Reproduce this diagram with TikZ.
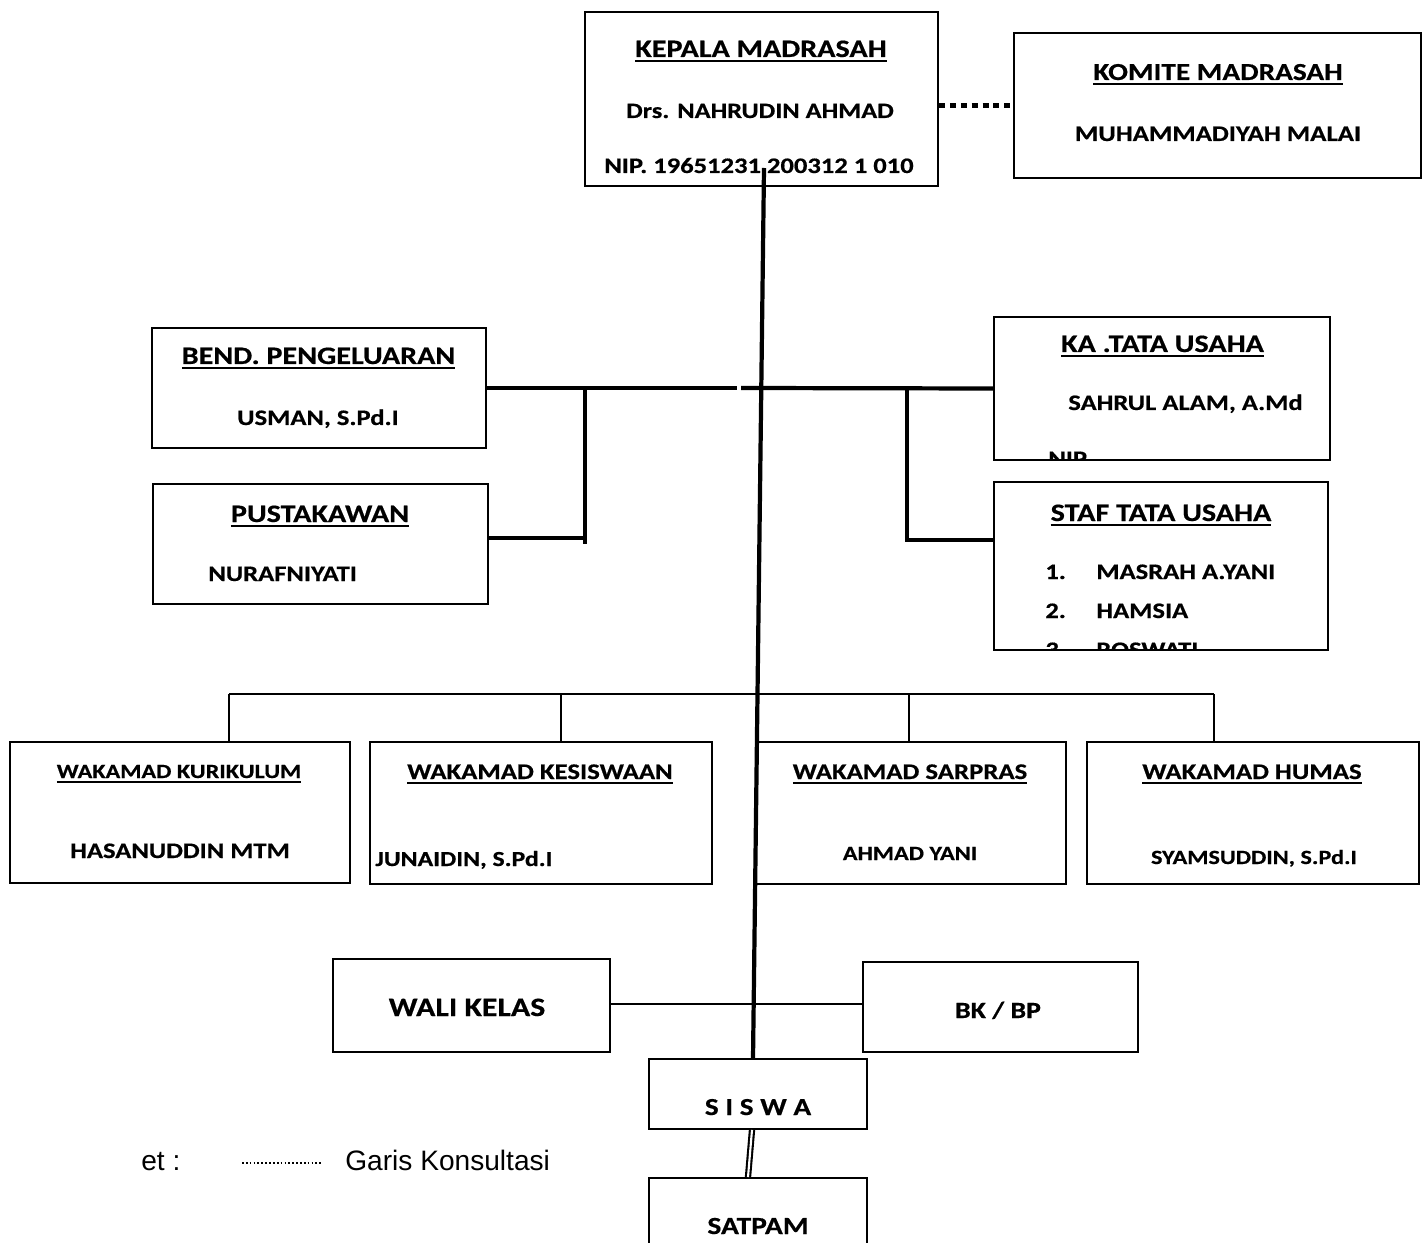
\documentclass[tikz,border=0pt]{standalone}
\usepackage{fontspec}
\setmainfont{Carlito}[FakeStretch=1.2, BoldFeatures={FakeBold=0.5}]
\newfontfamily\legendfont{Liberation Sans}
\newlength\pu \setlength\pu{0.02cm}
\newcommand\ulbox[1]{\setbox0\hbox{#1}\rlap{\rule[-2.8pt]{\wd0}{1.1pt}}\box0}
\begin{document}
\begin{tikzpicture}[x=0.02cm, y=-0.02cm,
  box/.style={draw, line width=1.1pt, inner sep=0pt, rectangle},
  fs/.style={inner sep=0pt, anchor=base, font=\fontsize{#1}{#1}\selectfont\bfseries},
  fsl/.style={fs=#1, anchor=base west},
  heavy/.style={line width=2.4pt},
  light/.style={line width=1.1pt},
  consult/.style={line width=3.4pt, dash pattern=on 3.4pt off 2.8pt}]
\useasboundingbox (0,0) rectangle (1427,1243);

% ---------- boxes ----------
\node[box, minimum width=353\pu, minimum height=174\pu] (kepala) at (761.5,99) {};
\node[box, minimum width=407\pu, minimum height=145\pu] (komite) at (1217.5,105.5) {};
\node[box, minimum width=334\pu, minimum height=120\pu] (bend) at (319,388) {};
\node[box, minimum width=335\pu, minimum height=120\pu] (pust) at (320.5,544) {};
\node[box, minimum width=336\pu, minimum height=143\pu] (katu) at (1162,388.5) {};
\node[box, minimum width=334\pu, minimum height=168\pu] (staf) at (1161,566) {};
\node[box, minimum width=340\pu, minimum height=141\pu] (kur) at (180,812.5) {};
\node[box, minimum width=342\pu, minimum height=142\pu] (kes) at (541,813) {};
\node[box, minimum width=310\pu, minimum height=142\pu] (sar) at (911,813) {};
\node[box, minimum width=332\pu, minimum height=142\pu] (hum) at (1253,813) {};
\node[box, minimum width=277\pu, minimum height=93\pu] (wali) at (471.5,1005.5) {};
\node[box, minimum width=275\pu, minimum height=90\pu] (bk) at (1000.5,1007) {};
\node[box, minimum width=218\pu, minimum height=70\pu] (siswa) at (758,1094) {};
\node[box, minimum width=218\pu, minimum height=82\pu] (satpam) at (758,1219) {};

% ---------- texts ----------
\node[fs=14.3] (kepalaA) at (761,57) {\ulbox{KEPALA MADRASAH}};
\node[fs=12.5] (kepalaB) at (760,118) {Drs. NAHRUDIN AHMAD};
\node[fs=12.6] (kepalaC) at (759,173) {NIP. 19651231 200312 1 010};

\node[fs=13.9] (komiteA) at (1218,80) {\ulbox{KOMITE MADRASAH}};
\node[fs=12.7] (komiteB) at (1218,141) {MUHAMMADIYAH MALAI};

\node[fs=14.3] (bendA) at (318.5,364) {\ulbox{BEND. PENGELUARAN}};
\node[fs=12.6] (bendB) at (318,425) {USMAN, S.Pd.I};

\node[fs=14.3] (pustA) at (320,522) {\ulbox{PUSTAKAWAN}};
\node[fsl=12.6] (pustB) at (208,581) {NURAFNIYATI};

\node[fs=14.3] (katuA) at (1162.5,352) {\ulbox{KA .TATA USAHA}};
\node[fs=12.6] (katuB) at (1185.5,410) {SAHRUL ALAM, A.Md};
\begin{scope}
  \clip (katu.south west) rectangle (katu.north east);
  \node[fsl=12.6] (katuC) at (1048,466) {NIP};
\end{scope}

\node[fs=14.3] (stafA) at (1161,521) {\ulbox{STAF TATA USAHA}};
\node[fsl=12.6] (staf1n) at (1045,579) {1.};
\node[fsl=12.6] (staf1) at (1096,579) {MASRAH A.YANI};
\node[fsl=12.6] (staf2n) at (1045,618) {2.};
\node[fsl=12.6] (staf2) at (1096,618) {HAMSIA};
\begin{scope}
  \clip (staf.south west) rectangle (staf.north east);
  \node[fsl=12.6] (staf3n) at (1045,657) {3.};
  \node[fsl=12.6] (staf3) at (1096,657) {ROSWATI};
\end{scope}

\node[fs=11.5] (kurA) at (179,778) {\ulbox{WAKAMAD KURIKULUM}};
\node[fs=12.6] (kurB) at (180,858) {HASANUDDIN MTM};
\node[fs=12.7] (kesA) at (540,779) {\ulbox{WAKAMAD KESISWAAN}};
\node[fsl=12.2] (kesB) at (375,866) {JUNAIDIN, S.Pd.I};
\node[fs=12.7] (sarA) at (910,779) {\ulbox{WAKAMAD SARPRAS}};
\node[fs=11.5] (sarB) at (910,860) {AHMAD YANI};
\node[fs=12.7] (humA) at (1252,779) {\ulbox{WAKAMAD HUMAS}};
\node[fs=11.5] (humB) at (1254,864) {SYAMSUDDIN, S.Pd.I};

\node[fs=15.1] (waliT) at (467,1016) {WALI KELAS};
\node[fs=13.2] (bkT) at (998,1018) {BK / BP};
\node[fs=13.9] (siswaT) at (758,1115) {S I S W A};
\node[fs=14] (satpamT) at (758,1234) {SATPAM};

% ---------- connectors ----------
\coordinate (mtop) at (764,168);
\coordinate (mbot) at (753,1059);
\coordinate (gapL) at (737,388);
\coordinate (gapR) at (741,388);
\coordinate (brL) at (585,388);
\coordinate (ljL) at (585,544);
\coordinate (brR) at (907,388);
\coordinate (rjR) at (907,540);
\coordinate (bA) at (229,694);
\coordinate (bB) at (561,694);
\coordinate (bC) at (909,694);
\coordinate (bD) at (1214,694);
\coordinate (wb) at (610,1004);

\draw[consult] (kepala.east |- komite.west) -- (komite.west);

\draw[heavy] (bend.east) -- (gapL);
\draw[heavy] (gapR) -- (katu.west);
\draw[heavy] (brL) -- (ljL);
\draw[heavy] (585,538) -- (pust.east |- 0,538);
\draw[heavy] (brR) -- (rjR) -- (rjR -| staf.west);

\draw[light] (bA) -- (bD);
\draw[light] (bA) -- (bA |- kur.north);
\draw[light] (bB) -- (bB |- kes.north);
\draw[light] (bC) -- (bC |- sar.north);
\draw[light] (bD) -- (bD |- hum.north);

\draw[light] (wali.east |- wb) -- (bk.west |- wb);

\draw[heavy] (mtop) -- (mbot);

\draw[line width=1.2pt, double, double distance=1.2pt] ([xshift=-6\pu]siswa.south) -- ([xshift=-10\pu]satpam.north);

% ---------- legend ----------
\node[inner sep=0pt, anchor=base west, font=\legendfont\fontsize{16}{19}\selectfont] (legA) at (141,1170) {et :};
\coordinate (legL) at (242,1163);
\coordinate (legR) at (321,1163);
\draw[line width=1pt, dash pattern=on 1pt off 1.2pt] (legL) -- (legR);
\node[inner sep=0pt, anchor=base west, font=\legendfont\fontsize{16}{19}\selectfont] (legB) at (345,1170) {Garis Konsultasi};
\end{tikzpicture}
\end{document}
